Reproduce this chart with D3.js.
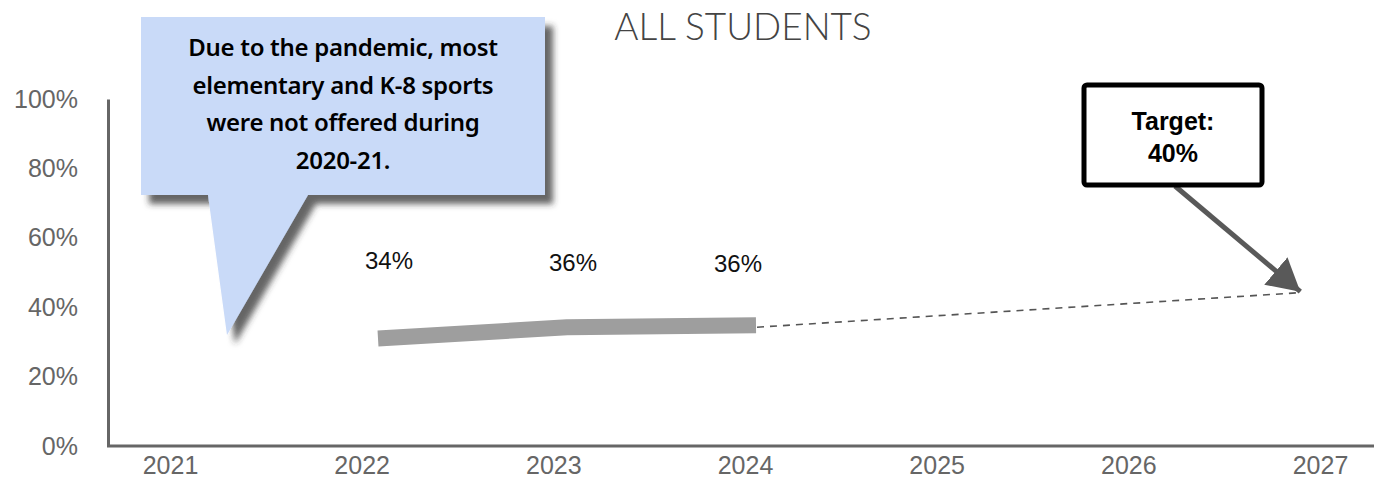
<!DOCTYPE html>
<html>
<head>
<meta charset="utf-8">
<script src="https://cdn.jsdelivr.net/npm/d3@7"></script>
<style>
  body { margin: 0; background: #fff; }
  svg { display: block; }
</style>
</head>
<body>
<script>
// x axis years and y ticks
var years = [2021, 2022, 2023, 2024, 2025, 2026, 2027];
var yTicks = [0, 20, 40, 60, 80, 100];

// the grey line as it sits on the drawn axis, and its labels
var lineYears = [2022, 2023, 2024];
var lineValues = [31, 34.2, 34.8];
var lineLabels = ["34%", "36%", "36%"];

// dashed projection to the target
var targetYear = 2026.88;
var targetValue = 44.2;
var targetLabel = ["Target:", "40%"];

var noteLines = [
  "Due to the pandemic, most",
  "elementary and K-8 sports",
  "were not offered during",
  "2020-21."
];

var width = 1374;
var height = 481;

var svg = d3.select("body")
  .append("svg")
  .attr("width", width)
  .attr("height", height);

var defs = svg.append("defs");

var shadow = defs.append("filter")
  .attr("id", "shadow")
  .attr("x", "-20%").attr("y", "-20%")
  .attr("width", "150%").attr("height", "150%");
shadow.append("feDropShadow")
  .attr("dx", 8).attr("dy", 9)
  .attr("stdDeviation", 3)
  .attr("flood-color", "#333")
  .attr("flood-opacity", 0.75);

defs.append("marker")
  .attr("id", "head")
  .attr("markerUnits", "userSpaceOnUse")
  .attr("viewBox", "0 -19 34 38")
  .attr("markerWidth", 34)
  .attr("markerHeight", 38)
  .attr("refX", 32)
  .attr("refY", 0)
  .attr("orient", "auto")
  .append("path")
  .attr("d", "M0,-18L32,0L0,18Z")
  .attr("fill", "#595959");

var x = d3.scalePoint().domain(years).range([170, 1320]);
var xLine = d3.scaleLinear().domain([2022, 2024]).range([378, 756]);
var y = d3.scaleLinear().domain([0, 100]).range([446, 99]);

// title
svg.append("text")
  .attr("x", 743)
  .attr("y", 40)
  .attr("text-anchor", "middle")
  .style("font-family", "Lato, 'Noto Sans', sans-serif")
  .style("font-weight", 300)
  .style("font-size", "37px")
  .style("fill", "#444")
  .text("ALL STUDENTS");

// y axis
var yAxis = svg.append("g")
  .attr("transform", "translate(108,0)")
  .call(d3.axisLeft(y).tickValues(yTicks).tickSize(0).tickSizeOuter(0).tickPadding(30)
    .tickFormat(function(d) { return d + "%"; }));
yAxis.select(".domain").attr("stroke", "#666").attr("stroke-width", 3);
yAxis.selectAll("text")
  .style("font-family", "Arial, 'Liberation Sans', sans-serif")
  .style("font-size", "25px")
  .style("fill", "#666");

// x axis
var xAxis = svg.append("g")
  .attr("transform", "translate(0,446)")
  .call(d3.axisBottom(x).tickSize(0).tickPadding(10));
xAxis.select(".domain").remove();
xAxis.append("line")
  .attr("x1", 107).attr("x2", width)
  .attr("stroke", "#666").attr("stroke-width", 3);
xAxis.selectAll("text")
  .style("font-family", "Arial, 'Liberation Sans', sans-serif")
  .style("font-size", "25px")
  .style("fill", "#666");

// grey line
var pts = lineYears.map(function(d, i) { return [xLine(d), y(lineValues[i])]; });
svg.append("path")
  .attr("d", d3.line()(pts))
  .attr("fill", "none")
  .attr("stroke", "#9e9e9e")
  .attr("stroke-width", 16)
  .attr("stroke-linejoin", "round");

// dashed projection
var last = pts[pts.length - 1];
svg.append("line")
  .attr("x1", last[0] + 1).attr("y1", last[1] + 2)
  .attr("x2", xLine(targetYear)).attr("y2", y(targetValue))
  .attr("stroke", "#555")
  .attr("stroke-width", 1.6)
  .attr("stroke-dasharray", "7,6");

// data labels
svg.selectAll(".lbl")
  .data(lineLabels)
  .enter()
  .append("text")
  .attr("class", "lbl")
  .attr("x", function(d, i) { return [389, 573, 738][i]; })
  .attr("y", function(d, i) { return [269, 271, 272][i]; })
  .attr("text-anchor", "middle")
  .style("font-family", "Arial, 'Liberation Sans', sans-serif")
  .style("font-size", "24px")
  .style("fill", "#111")
  .text(function(d) { return d; });

// callout
var p = d3.path();
p.moveTo(141, 17);
p.lineTo(545, 17);
p.lineTo(545, 195);
p.lineTo(308, 195);
p.lineTo(227, 335);
p.lineTo(208, 195);
p.lineTo(141, 195);
p.closePath();
svg.append("path")
  .attr("d", p.toString())
  .attr("fill", "#c9daf8")
  .attr("filter", "url(#shadow)");

svg.selectAll(".note")
  .data(noteLines)
  .enter()
  .append("text")
  .attr("class", "note")
  .attr("x", 343)
  .attr("y", function(d, i) { return 56 + i * 37.5; })
  .attr("text-anchor", "middle")
  .style("font-family", "'Noto Sans', sans-serif")
  .style("font-weight", 600)
  .style("font-size", "24px")
  .style("letter-spacing", "-0.3px")
  .style("fill", "#000")
  .text(function(d) { return d; });

// target box and arrow
svg.append("line")
  .attr("x1", 1175).attr("y1", 186)
  .attr("x2", xLine(targetYear)).attr("y2", y(targetValue) - 1)
  .attr("stroke", "#595959")
  .attr("stroke-width", 5)
  .attr("marker-end", "url(#head)");

svg.append("rect")
  .attr("x", 1084).attr("y", 85)
  .attr("width", 178).attr("height", 100)
  .attr("rx", 3)
  .attr("fill", "#fff")
  .attr("stroke", "#000")
  .attr("stroke-width", 5);

svg.selectAll(".tgt")
  .data(targetLabel)
  .enter()
  .append("text")
  .attr("class", "tgt")
  .attr("x", 1173)
  .attr("y", function(d, i) { return 130 + i * 32; })
  .attr("text-anchor", "middle")
  .style("font-family", "Arial, 'Liberation Sans', sans-serif")
  .style("font-weight", "bold")
  .style("font-size", "25px")
  .style("fill", "#000")
  .text(function(d) { return d; });
</script>
</body>
</html>
